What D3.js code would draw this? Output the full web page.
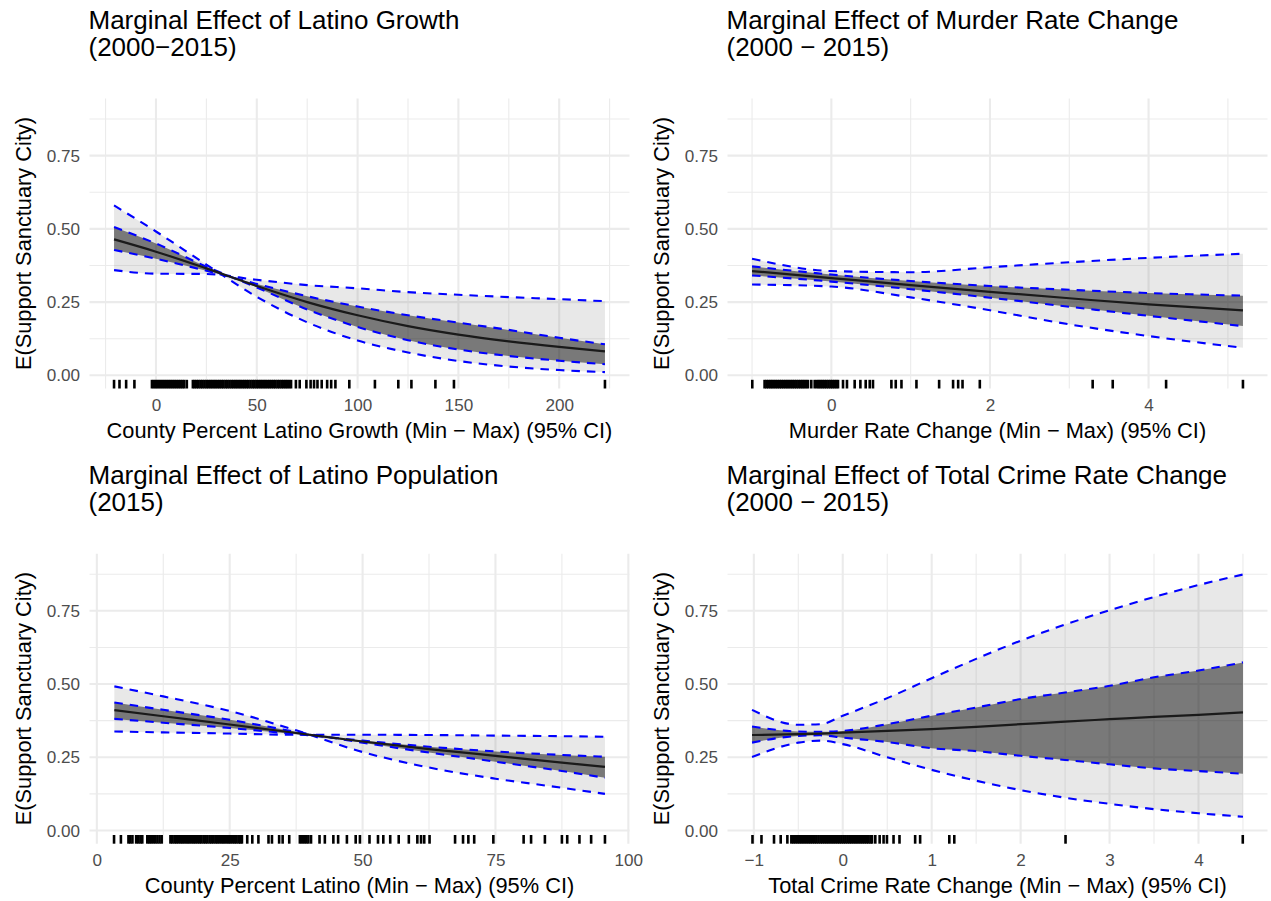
<!DOCTYPE html>
<html>
<head>
<meta charset="utf-8">
<script src="https://cdn.jsdelivr.net/npm/d3@7"></script>
<style>
  body { margin: 0; background: #fff; }
  svg { font-family: "Liberation Sans", Arial, sans-serif; }
</style>
</head>
<body>
<svg id="chart" width="1271" height="901"></svg>
<script>
// ---- panel 1: latino growth ----
const growthX = [-20.8, 0, 25, 50, 75, 100, 125, 150, 175, 200, 222.7];
const growthFit = [0.464, 0.422, 0.365, 0.305, 0.250, 0.205, 0.168, 0.139, 0.116, 0.097, 0.082];
const growthOuterA = [0.580, 0.491, 0.378, 0.268, 0.181, 0.119, 0.078, 0.049, 0.030, 0.018, 0.011];
const growthOuterB = [0.359, 0.347, 0.346, 0.326, 0.308, 0.297, 0.284, 0.275, 0.267, 0.260, 0.253];
const growthInnerA = [0.506, 0.450, 0.371, 0.300, 0.225, 0.165, 0.120, 0.088, 0.066, 0.050, 0.038];
const growthInnerB = [0.428, 0.398, 0.357, 0.312, 0.270, 0.235, 0.205, 0.180, 0.155, 0.128, 0.106];
const growthRug = [-20.8, -18.1, -14.8, -10.7, -2.0, -1.0, 0.0, 1.0, 2.0, 3.0, 4.0, 5.0, 6.0, 7.0,
  8.0, 9.0, 10.0, 11.0, 12.0, 13.0, 14.0, 15.3, 18.3, 19.2, 20.2, 21.1, 22.1, 23.0, 24.0, 25.0,
  25.9, 26.9, 27.8, 28.8, 29.7, 30.7, 31.6, 32.6, 33.5, 34.5, 35.4, 36.4, 37.4, 38.3, 39.3, 40.2,
  41.2, 42.1, 43.1, 44.0, 45.0, 45.9, 46.9, 47.9, 48.8, 49.8, 50.7, 51.7, 52.6, 53.6, 54.5, 55.5,
  56.4, 57.4, 58.4, 59.3, 60.3, 61.2, 62.2, 63.1, 64.1, 65.0, 66.0, 67.0, 69.4, 71.3, 74.6, 76.7,
  78.4, 80.1, 82.2, 84.9, 86.9, 89.0, 95.9, 108.6, 120.2, 126.7, 138.6, 147.8, 222.7];

// ---- panel 2: murder rate change ----
const murderX = [-1.0, 0, 1, 2, 3, 4, 5.19];
const murderFit = [0.356, 0.332, 0.308, 0.285, 0.263, 0.242, 0.222];
const murderOuterA = [0.398, 0.356, 0.352, 0.369, 0.386, 0.401, 0.415];
const murderOuterB = [0.310, 0.303, 0.266, 0.222, 0.174, 0.134, 0.094];
const murderInnerA = [0.372, 0.344, 0.322, 0.305, 0.292, 0.281, 0.272];
const murderInnerB = [0.341, 0.320, 0.294, 0.265, 0.234, 0.203, 0.168];
const murderRug = [-0.997, -0.842, -0.818, -0.795, -0.77, -0.748, -0.724, -0.70, -0.676, -0.652,
  -0.63, -0.606, -0.582, -0.558, -0.535, -0.51, -0.487, -0.463, -0.44, -0.416, -0.392, -0.368,
  -0.345, -0.32, -0.295, -0.253, -0.21, -0.18, -0.156, -0.132, -0.108, -0.084, -0.06, -0.036,
  -0.012, 0.012, 0.036, 0.06, 0.084, 0.147, 0.197, 0.294, 0.366, 0.433, 0.484, 0.525, 0.757,
  0.812, 0.884, 1.073, 1.359, 1.535, 1.599, 1.654, 1.872, 3.295, 3.548, 4.221, 5.19];

// ---- panel 3: latino population ----
const popX = [3.3, 12.5, 25, 37.5, 50, 62.5, 75, 87.5, 95.6];
const popFit = [0.411, 0.390, 0.362, 0.333, 0.304, 0.278, 0.255, 0.232, 0.217];
const popOuterA = [0.492, 0.458, 0.408, 0.342, 0.268, 0.215, 0.177, 0.146, 0.125];
const popOuterB = [0.338, 0.335, 0.331, 0.327, 0.327, 0.326, 0.324, 0.322, 0.320];
const popInnerA = [0.437, 0.412, 0.378, 0.337, 0.300, 0.266, 0.235, 0.203, 0.180];
const popInnerB = [0.381, 0.368, 0.350, 0.329, 0.307, 0.286, 0.270, 0.258, 0.252];
const popRug = [3.24, 4.53, 5.95, 6.3, 6.7, 7.4, 7.8, 8.2, 8.55, 9.5, 9.85, 10.2, 10.6, 11.0, 11.4,
  11.8, 12.2, 13.85, 14.2, 14.6, 14.95, 15.3, 15.7, 16.05, 16.4, 16.8, 17.15, 17.5, 17.9, 18.25,
  18.6, 19.0, 19.35, 19.7, 20.1, 20.45, 20.8, 21.2, 21.55, 21.9, 22.3, 22.65, 23.0, 23.4, 23.75,
  24.1, 24.5, 24.85, 25.2, 25.6, 25.95, 26.3, 26.7, 27.0, 27.3, 28.3, 29.25, 30.4, 32.3, 32.95,
  34.3, 34.96, 36.2, 38.2, 38.6, 39.0, 39.4, 39.8, 40.3, 41.9, 42.9, 44.5, 45.4, 47.05, 48.7, 49.5,
  51.3, 52.9, 53.9, 55.2, 56.8, 58.7, 60.3, 61.0, 61.6, 62.6, 67.4, 68.9, 69.9, 71.0, 74.6, 80.3,
  81.7, 84.3, 87.5, 88.5, 90.8, 93.0, 95.6];

// ---- panel 4: total crime rate change ----
const crimeX = [-1.02, -0.5, -0.25, 0, 0.5, 1, 1.5, 2, 2.5, 3, 3.5, 4, 4.5];
const crimeFit = [0.326, 0.329, 0.331, 0.334, 0.340, 0.346, 0.354, 0.363, 0.372, 0.380, 0.388, 0.395, 0.403];
const crimeOuterA = [0.412, 0.361, 0.363, 0.392, 0.452, 0.520, 0.586, 0.648, 0.703, 0.752, 0.797, 0.838, 0.874];
const crimeOuterB = [0.251, 0.300, 0.307, 0.295, 0.250, 0.207, 0.170, 0.138, 0.112, 0.091, 0.073, 0.059, 0.047];
const crimeInnerA = [0.355, 0.338, 0.337, 0.340, 0.363, 0.392, 0.420, 0.449, 0.471, 0.494, 0.523, 0.546, 0.574];
const crimeInnerB = [0.300, 0.323, 0.325, 0.317, 0.302, 0.281, 0.271, 0.255, 0.241, 0.226, 0.212, 0.203, 0.194];
const crimeRug = [-1.015, -0.914, -0.773, -0.698, -0.623, -0.578, -0.556, -0.535, -0.512, -0.49,
  -0.468, -0.447, -0.425, -0.403, -0.381, -0.36, -0.338, -0.316, -0.295, -0.273, -0.251, -0.23,
  -0.208, -0.186, -0.165, -0.143, -0.121, -0.1, -0.078, -0.056, -0.035, -0.013, 0.009, 0.03, 0.052,
  0.074, 0.095, 0.117, 0.139, 0.16, 0.182, 0.204, 0.225, 0.247, 0.269, 0.29, 0.312, 0.329, 0.366,
  0.415, 0.459, 0.497, 0.571, 0.638, 0.814, 0.87, 1.198, 1.254, 2.505, 4.498];

// ticks
const yMajor = [0, 0.25, 0.5, 0.75];
const yMinor = [0.125, 0.375, 0.625, 0.875];
const growthTicks = [0, 50, 100, 150, 200];
const growthMinor = [-25, 25, 75, 125, 175, 225];
const murderTicks = [0, 2, 4];
const murderMinor = [-1, 1, 3, 5];
const popTicks = [0, 25, 50, 75, 100];
const popMinor = [12.5, 37.5, 62.5, 87.5];
const crimeTicks = [-1, 0, 1, 2, 3, 4];
const crimeMinor = [-0.5, 0.5, 1.5, 2.5, 3.5, 4.5];

const yLabel = 'E(Support Sanctuary City)';

const panels = [
  { left: 89.5, top: 98.5, title: ['Marginal Effect of Latino Growth', '(2000\u22122015)'],
    xTitle: 'County Percent Latino Growth (Min \u2212 Max) (95% CI)',
    x: growthX, fit: growthFit, oa: growthOuterA, ob: growthOuterB, ia: growthInnerA, ib: growthInnerB,
    rug: growthRug, ticks: growthTicks, minor: growthMinor },
  { left: 727.5, top: 98.5, title: ['Marginal Effect of Murder Rate Change', '(2000 \u2212 2015)'],
    xTitle: 'Murder Rate Change (Min \u2212 Max) (95% CI)',
    x: murderX, fit: murderFit, oa: murderOuterA, ob: murderOuterB, ia: murderInnerA, ib: murderInnerB,
    rug: murderRug, ticks: murderTicks, minor: murderMinor },
  { left: 89.5, top: 553.7, title: ['Marginal Effect of Latino Population', '(2015)'],
    xTitle: 'County Percent Latino (Min \u2212 Max) (95% CI)',
    x: popX, fit: popFit, oa: popOuterA, ob: popOuterB, ia: popInnerA, ib: popInnerB,
    rug: popRug, ticks: popTicks, minor: popMinor },
  { left: 727.5, top: 553.7, title: ['Marginal Effect of Total Crime Rate Change', '(2000 \u2212 2015)'],
    xTitle: 'Total Crime Rate Change (Min \u2212 Max) (95% CI)',
    x: crimeX, fit: crimeFit, oa: crimeOuterA, ob: crimeOuterB, ia: crimeInnerA, ib: crimeInnerB,
    rug: crimeRug, ticks: crimeTicks, minor: crimeMinor }
];

const svg = d3.select('#chart');
const panelW = 540;
const panelH = 290;
const gridColor = '#EBEBEB';

function drawPanel(p) {
  const g = svg.append('g');
  const ext = d3.extent(p.x.concat(p.rug));
  const pad = (ext[1] - ext[0]) * 0.05;
  const x = d3.scaleLinear().domain([ext[0] - pad, ext[1] + pad]).range([p.left, p.left + panelW]);
  const y = d3.scaleLinear().domain([-0.045, 0.945]).range([p.top + panelH, p.top]);
  const bottom = p.top + panelH;

  // grid: minor first, then major
  g.selectAll('.vminor').data(p.minor).join('line')
    .attr('x1', d => x(d)).attr('x2', d => x(d))
    .attr('y1', p.top).attr('y2', bottom)
    .attr('stroke', gridColor).attr('stroke-width', 1.1);
  g.selectAll('.hminor').data(yMinor).join('line')
    .attr('x1', p.left).attr('x2', p.left + panelW)
    .attr('y1', d => y(d)).attr('y2', d => y(d))
    .attr('stroke', gridColor).attr('stroke-width', 1.1);
  g.selectAll('.vmajor').data(p.ticks).join('line')
    .attr('x1', d => x(d)).attr('x2', d => x(d))
    .attr('y1', p.top).attr('y2', bottom)
    .attr('stroke', gridColor).attr('stroke-width', 2.1);
  g.selectAll('.hmajor').data(yMajor).join('line')
    .attr('x1', p.left).attr('x2', p.left + panelW)
    .attr('y1', d => y(d)).attr('y2', d => y(d))
    .attr('stroke', gridColor).attr('stroke-width', 2.1);

  const rows = p.x.map((v, i) => ({
    x: v, fit: p.fit[i], oa: p.oa[i], ob: p.ob[i], ia: p.ia[i], ib: p.ib[i]
  }));
  const curve = d3.curveMonotoneX;

  const outerArea = d3.area().curve(curve)
    .x(d => x(d.x)).y0(d => y(d.ob)).y1(d => y(d.oa));
  const innerArea = d3.area().curve(curve)
    .x(d => x(d.x)).y0(d => y(d.ib)).y1(d => y(d.ia));

  g.append('path').datum(rows).attr('d', outerArea)
    .attr('fill', '#7f7f7f').attr('fill-opacity', 0.18);
  g.append('path').datum(rows).attr('d', innerArea)
    .attr('fill', '#000').attr('fill-opacity', 0.48);

  ['oa', 'ob', 'ia', 'ib'].forEach((k) => {
    const line = d3.line().curve(curve).x(d => x(d.x)).y(d => y(d[k]));
    g.append('path').datum(rows).attr('d', line)
      .attr('fill', 'none').attr('stroke', '#0000FF')
      .attr('stroke-width', 2.1).attr('stroke-dasharray', '8.5,7');
  });

  const fitLine = d3.line().curve(curve).x(d => x(d.x)).y(d => y(d.fit));
  g.append('path').datum(rows).attr('d', fitLine)
    .attr('fill', 'none').attr('stroke', '#1a1a1a').attr('stroke-width', 2.2);

  // rug along the bottom
  g.selectAll('.rug').data(p.rug).join('line')
    .attr('x1', d => x(d)).attr('x2', d => x(d))
    .attr('y1', bottom).attr('y2', bottom - panelH * 0.03)
    .attr('stroke', '#000').attr('stroke-width', 2.6);

  // axes (no tick marks, just labels)
  const xAxis = g.append('g').attr('transform', `translate(0,${bottom})`)
    .call(d3.axisBottom(x).tickValues(p.ticks).tickSize(0).tickPadding(10.5).tickFormat(d3.format('d')));
  const yAxis = g.append('g').attr('transform', `translate(${p.left},0)`)
    .call(d3.axisLeft(y).tickValues(yMajor).tickSize(0).tickPadding(9.5).tickFormat(d3.format('.2f')));
  [xAxis, yAxis].forEach((a) => {
    a.select('.domain').remove();
    a.selectAll('text').attr('fill', '#4D4D4D').style('font-size', '17.1px')
      .style('font-family', '"Liberation Sans", Arial, sans-serif');
  });

  g.append('text')
    .attr('x', p.left + panelW / 2).attr('y', bottom + 49.5)
    .attr('text-anchor', 'middle').style('font-size', '21.8px').attr('fill', '#000')
    .text(p.xTitle);

  g.append('text')
    .attr('transform', `translate(${p.left - 66.5},${p.top + panelH / 2}) rotate(-90)`)
    .attr('text-anchor', 'middle').attr('dy', '0.36em')
    .style('font-size', '21.8px').attr('fill', '#000')
    .text(yLabel);

  g.selectAll('.title').data(p.title).join('text')
    .attr('x', p.left - 1)
    .attr('y', (d, i) => p.top - 69.5 + i * 26.5)
    .style('font-size', '26px').attr('fill', '#000')
    .text(d => d);
}

panels.forEach(drawPanel);
</script>
</body>
</html>
